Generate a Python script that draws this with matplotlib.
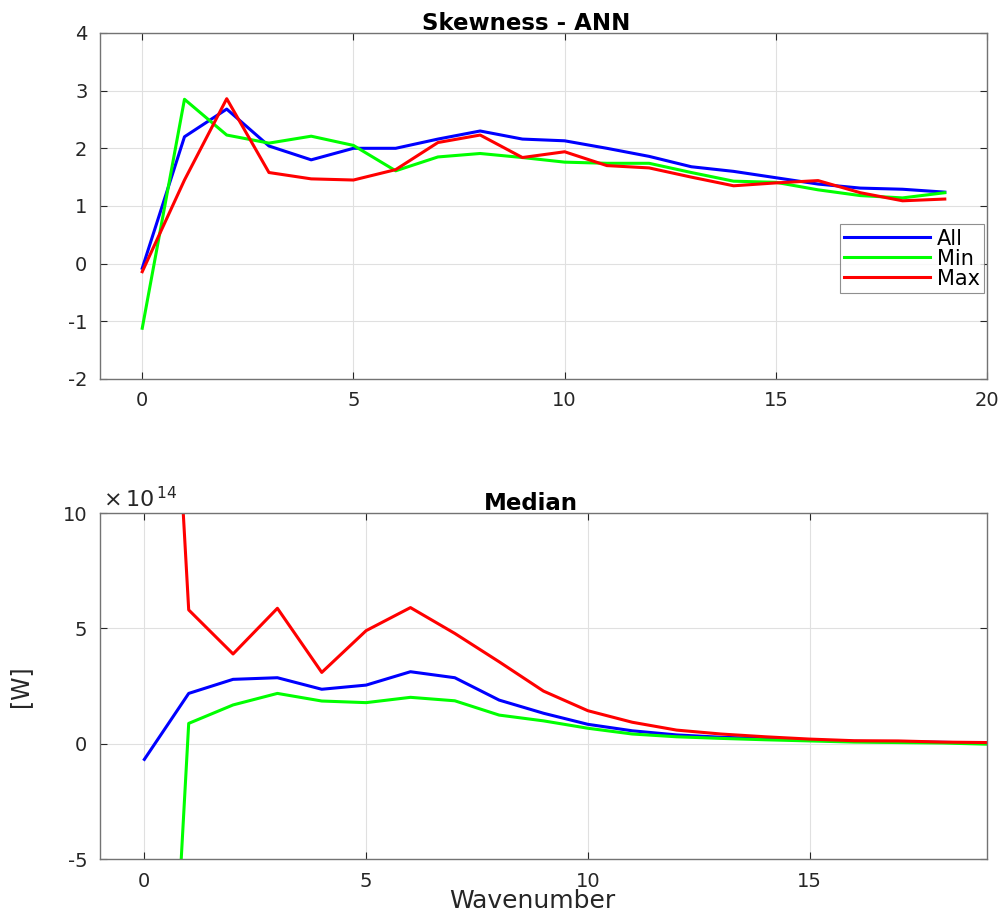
import numpy as np
import matplotlib
matplotlib.use("Agg")
import matplotlib.pyplot as plt
from matplotlib.ticker import FuncFormatter

plt.rcParams['font.family'] = ['DejaVu Sans']
plt.rcParams['axes.unicode_minus'] = False

wavenumber = np.arange(20)
labels = ['All', 'Min', 'Max']
colors = ['#0000ff', '#00ff00', '#ff0000']

# skewness of ANN
skew_all = [-0.08, 2.20, 2.68, 2.04, 1.80, 2.00, 2.00, 2.16, 2.30, 2.16,
            2.13, 2.00, 1.86, 1.68, 1.60, 1.49, 1.38, 1.31, 1.29, 1.24]
skew_min = [-1.12, 2.85, 2.23, 2.09, 2.21, 2.05, 1.61, 1.85, 1.91, 1.84,
            1.76, 1.74, 1.74, 1.58, 1.43, 1.41, 1.28, 1.18, 1.14, 1.23]
skew_max = [-0.14, 1.45, 2.86, 1.58, 1.47, 1.45, 1.63, 2.10, 2.23, 1.84,
            1.94, 1.70, 1.66, 1.50, 1.35, 1.40, 1.44, 1.23, 1.09, 1.12]

# median, units of 1e14 W
med_all = [-0.68, 2.18, 2.79, 2.86, 2.36, 2.54, 3.12, 2.86, 1.89, 1.32,
           0.84, 0.56, 0.38, 0.28, 0.22, 0.16, 0.10, 0.08, 0.06, 0.02]
med_min = [-34.0, 0.88, 1.68, 2.18, 1.85, 1.78, 2.01, 1.86, 1.24, 0.99,
           0.67, 0.42, 0.30, 0.23, 0.17, 0.12, 0.07, 0.05, 0.03, -0.02]
med_max = [40.0, 5.80, 3.89, 5.87, 3.09, 4.90, 5.90, 4.78, 3.55, 2.28,
           1.43, 0.93, 0.59, 0.42, 0.30, 0.20, 0.13, 0.12, 0.07, 0.05]
scale = 1e14

axcol = '0.15'
fig = plt.figure(figsize=(10.04, 9.13), dpi=100)
ax1 = fig.add_axes([0.0996, 0.5849, 0.8835, 0.379])
ax2 = fig.add_axes([0.0996, 0.0591, 0.8835, 0.379])


def style(ax):
    ax.grid(True, color='0.88', linewidth=0.8)
    ax.set_axisbelow(True)
    ax.tick_params(direction='in', top=True, right=True, length=5,
                   labelsize=14, colors=axcol, width=0.8, pad=9)
    for s in ax.spines.values():
        s.set_color('0.45')
        s.set_linewidth(1.0)


for ys, lab, c in zip([skew_all, skew_min, skew_max], labels, colors):
    ax1.plot(wavenumber, ys, color=c, lw=2.2, label=lab)
ax1.set_xlim(-1, 20)
ax1.set_ylim(-2, 4)
ax1.set_xticks([0, 5, 10, 15, 20])
ax1.set_yticks(range(-2, 5))
ax1.set_title('Skewness - ANN', fontsize=16.5, fontweight='bold', pad=2, x=0.48)
style(ax1)
leg = ax1.legend(loc='lower right', bbox_to_anchor=(0.997, 0.249),
                 borderaxespad=0, fontsize=15, handlelength=4.1,
                 handletextpad=0.35, labelspacing=0.0, fancybox=False,
                 edgecolor='0.45', borderpad=0.2)
leg.get_frame().set_linewidth(0.8)

for ys, lab, c in zip([med_all, med_min, med_max], labels, colors):
    ax2.plot(wavenumber, np.array(ys) * scale, color=c, lw=2.2, label=lab)
ax2.set_xlim(-1, 19)
ax2.set_ylim(-5 * scale, 10 * scale)
ax2.set_xticks([0, 5, 10, 15])
ax2.set_yticks([-5 * scale, 0, 5 * scale, 10 * scale])
ax2.yaxis.set_major_formatter(FuncFormatter(lambda v, p: f"{v / scale:g}"))
ax2.set_title('Median', fontsize=16.5, fontweight='bold', pad=2, x=0.486)
ax2.set_xlabel('Wavenumber', fontsize=18, color=axcol)
ax2.xaxis.set_label_coords(0.487, -0.086)
ax2.set_ylabel('[W]', fontsize=17, color=axcol, labelpad=22)
style(ax2)
ax2.text(0.003, 1.006, r'$\times\,$10$^{\,14}$', transform=ax2.transAxes,
         fontsize=16, color=axcol, ha='left', va='bottom')

fig.savefig('out.png', dpi=100)
